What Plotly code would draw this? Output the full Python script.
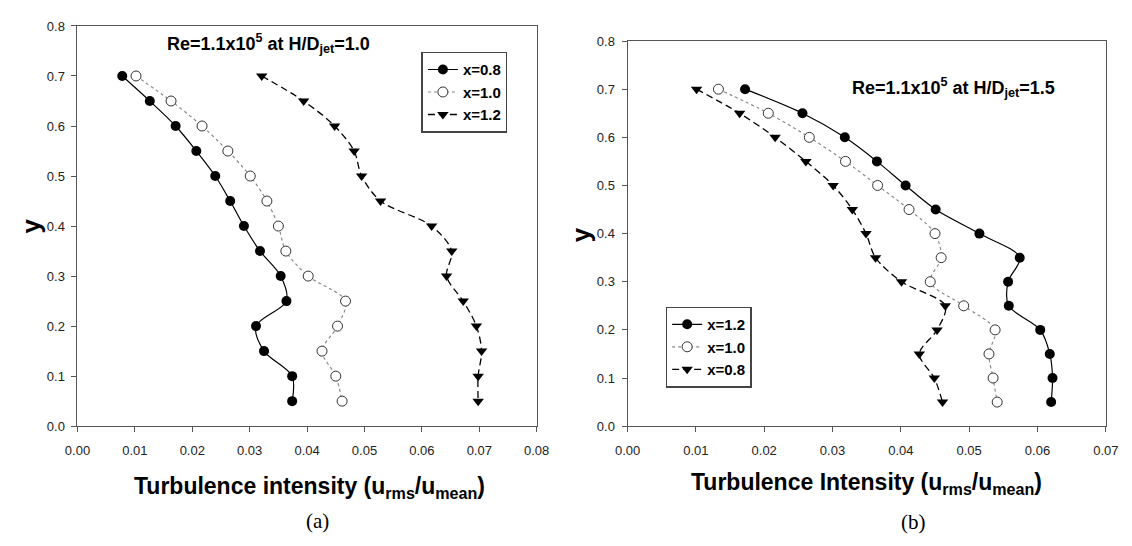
import plotly.graph_objects as go

# Measurement heights (same for every profile)
y_levels = [0.70, 0.65, 0.60, 0.55, 0.50, 0.45, 0.40, 0.35, 0.30, 0.25, 0.20, 0.15, 0.10, 0.05]

# (a) H/Djet = 1.0
a_x08 = [0.0078, 0.0126, 0.0171, 0.0207, 0.0240, 0.0266, 0.0290, 0.0318, 0.0354, 0.0364, 0.0311, 0.0325, 0.0374, 0.0374]
a_x10 = [0.0102, 0.0163, 0.0217, 0.0262, 0.0301, 0.0330, 0.0350, 0.0363, 0.0402, 0.0467, 0.0453, 0.0426, 0.0450, 0.0461]
a_x12 = [0.0321, 0.0394, 0.0448, 0.0482, 0.0495, 0.0528, 0.0617, 0.0652, 0.0643, 0.0672, 0.0695, 0.0704, 0.0698, 0.0698]

# (b) H/Djet = 1.5
b_x12 = [0.0172, 0.0256, 0.0318, 0.0365, 0.0407, 0.0451, 0.0515, 0.0574, 0.0557, 0.0558, 0.0604, 0.0618, 0.0622, 0.0620]
b_x10 = [0.0133, 0.0206, 0.0266, 0.0319, 0.0366, 0.0412, 0.0450, 0.0459, 0.0443, 0.0492, 0.0538, 0.0529, 0.0535, 0.0541]
b_x08 = [0.0101, 0.0164, 0.0216, 0.0261, 0.0301, 0.0329, 0.0349, 0.0363, 0.0401, 0.0465, 0.0453, 0.0427, 0.0449, 0.0461]

BOLD = "Liberation Sans Narrow, Arial Narrow, Liberation Sans, Arial, sans-serif"
SANS = "Liberation Sans, Arial, sans-serif"
SERIF = "Liberation Serif, Times New Roman, serif"
AXC = "#555555"

styles = {
    "solid": dict(line=dict(color="black", width=1.2, shape="spline", smoothing=0.9),
                  marker=dict(symbol="circle", size=10, color="black")),
    "dot": dict(line=dict(color="#8a8a8a", width=1.2, dash="dot", shape="spline", smoothing=0.9),
                marker=dict(symbol="circle", size=10, color="white", line=dict(color="#333333", width=1))),
    "dash": dict(line=dict(color="black", width=1.3, dash="7px,4px", shape="spline", smoothing=0.9),
                 marker=dict(symbol="triangle-down", size=10, color="black")),
}

fig = go.Figure()


def add_profile(xs, name, style, xa, ya, legend):
    st = styles[style]
    fig.add_trace(go.Scatter(x=xs, y=y_levels, name=name, mode="lines+markers",
                             line=st["line"], marker=st["marker"],
                             xaxis=xa, yaxis=ya, legend=legend))


add_profile(a_x08, "x=0.8", "solid", "x", "y", "legend")
add_profile(a_x10, "x=1.0", "dot", "x", "y", "legend")
add_profile(a_x12, "x=1.2", "dash", "x", "y", "legend")

add_profile(b_x12, "x=1.2", "solid", "x2", "y2", "legend2")
add_profile(b_x10, "x=1.0", "dot", "x2", "y2", "legend2")
add_profile(b_x08, "x=0.8", "dash", "x2", "y2", "legend2")

axis_common = dict(showline=True, mirror=True, linecolor=AXC, linewidth=1,
                   ticks="outside", ticklen=5, tickcolor=AXC, tickwidth=1,
                   showgrid=False, zeroline=False,
                   tickfont=dict(family=SANS, size=13, color="#222222"))

W, H = 1132, 546


def px_x(v):
    return v / W


def px_y(v):
    return 1 - v / H


legend_style = dict(xanchor="left", yanchor="top",
                    bordercolor="#444444", borderwidth=1.5, bgcolor="white",
                    font=dict(family=BOLD, size=15, color="black", weight="bold"),
                    entrywidth=52, entrywidthmode="pixels",
                    tracegroupgap=0)

fig.update_layout(
    width=W, height=H,
    margin=dict(l=0, r=0, t=0, b=0),
    paper_bgcolor="white", plot_bgcolor="white",
    xaxis=dict(domain=[px_x(66), px_x(536)], range=[0, 0.08], dtick=0.01, tickformat=".2f",
               anchor="y", ticklabelstandoff=7, **axis_common),
    yaxis=dict(domain=[px_y(431), px_y(19.5)], range=[0, 0.8], dtick=0.1, tickformat=".1f",
               anchor="x", ticklabelstandoff=4, **axis_common),
    xaxis2=dict(domain=[px_x(629), px_x(1118.5)], range=[0, 0.07], dtick=0.01, tickformat=".2f",
                anchor="y2", ticklabelstandoff=7, **axis_common),
    yaxis2=dict(domain=[px_y(431), px_y(35)], range=[0, 0.8], dtick=0.1, tickformat=".1f",
                anchor="x2", ticklabelstandoff=4, **axis_common),
    legend=dict(x=px_x(418), y=px_y(46), **legend_style),
    legend2=dict(x=px_x(668), y=px_y(308), **legend_style),
    showlegend=True,
)

title_font = dict(family=BOLD, size=18, color="black", weight="bold")
xt_font = dict(family=BOLD, size=23, color="black", weight="bold")

annotations = [
    dict(text="Re=1.1x10<sup>5</sup> at H/D<sub>jet</sub>=1.0", x=px_x(262), y=px_y(38),
         font=title_font),
    dict(text="Re=1.1x10<sup>5</sup> at H/D<sub>jet</sub>=1.5", x=px_x(963), y=px_y(83),
         font=title_font),
    dict(text="Turbulence intensity (u<sub>rms</sub>/u<sub>mean</sub>)", x=px_x(303), y=px_y(494),
         font=xt_font),
    dict(text="Turbulence Intensity (u<sub>rms</sub>/u<sub>mean</sub>)", x=px_x(874), y=px_y(490),
         font=xt_font),
    dict(text="y", x=px_x(18), y=px_y(225), textangle=-90,
         font=dict(family=SANS, size=26, color="black", weight="bold")),
    dict(text="y", x=px_x(581), y=px_y(234), textangle=-90,
         font=dict(family=SANS, size=26, color="black", weight="bold")),
    dict(text="(a)", x=px_x(312), y=px_y(529), font=dict(family=SERIF, size=21, color="black")),
    dict(text="(b)", x=px_x(922), y=px_y(530), font=dict(family=SERIF, size=21, color="black")),
]
for a in annotations:
    fig.add_annotation(xref="paper", yref="paper", showarrow=False,
                       xanchor="center", yanchor="middle", **a)

fig.write_html("out.html")
